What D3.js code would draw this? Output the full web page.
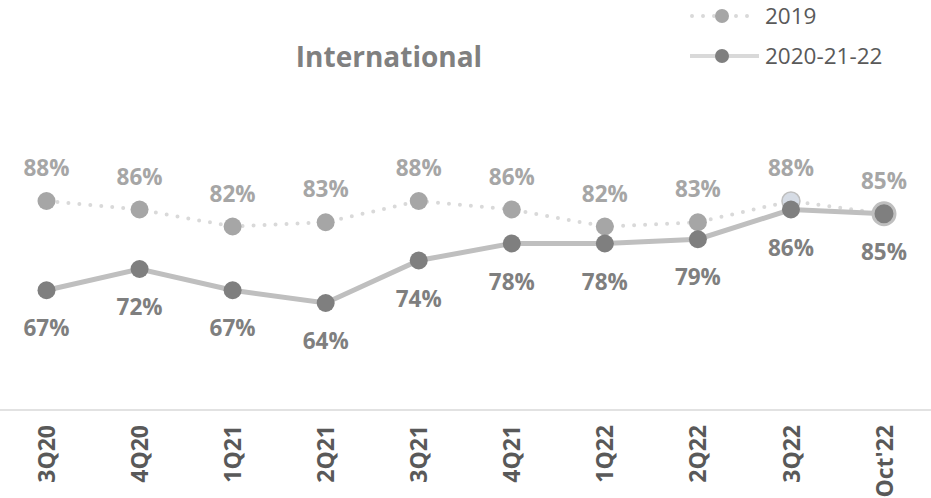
<!DOCTYPE html>
<html>
<head>
<meta charset="utf-8">
<script src="https://cdn.jsdelivr.net/npm/d3@7"></script>
<style>
  body { margin: 0; background: #fff; }
  svg { display: block; font-family: 'Open Sans', sans-serif; }
</style>
</head>
<body>
<div id="chart"></div>
<script>
var w = 931;
var h = 498;

var categories = ["3Q20", "4Q20", "1Q21", "2Q21", "3Q21", "4Q21", "1Q22", "2Q22", "3Q22", "Oct'22"];
var values2019 = [88, 86, 82, 83, 88, 86, 82, 83, 88, 85];
var values2020 = [67, 72, 67, 64, 74, 78, 78, 79, 86, 85];
var seriesNames = ["2019", "2020-21-22"];

var svg = d3.select('#chart')
    .append('svg')
        .attr('width', w)
        .attr('height', h);

var x = d3.scalePoint()
    .domain(categories)
    .range([46.5, 884]);

var y = d3.scaleLinear()
    .domain([40, 100])
    .range([405, 150]);

// title
svg.append('text')
    .attr('x', 389)
    .attr('y', 67)
    .attr('text-anchor', 'middle')
    .style('font-size', '28px')
    .style('font-weight', 'bold')
    .style('fill', '#808080')
    .text('International');

// x axis
var xAxis = svg.append('g')
    .attr('transform', 'translate(0,410)')
    .call(d3.axisBottom(x).tickSize(0).tickPadding(0));
xAxis.select('.domain').remove();
xAxis.append('line')
    .attr('x1', 0).attr('x2', w)
    .attr('stroke', '#d9d9d9')
    .attr('stroke-width', 1.5);
xAxis.selectAll('.tick text')
    .attr('transform', 'rotate(-90)')
    .attr('x', -15)
    .attr('y', 0)
    .attr('dy', '0.35em')
    .attr('text-anchor', 'end')
    .style('font-family', "'Open Sans', sans-serif")
    .style('font-size', '23px')
    .style('font-weight', 'bold')
    .style('fill', '#595959');

var line = d3.line()
    .x((d, i) => x(categories[i]))
    .y(d => y(d));

// 2019 dotted line
svg.append('path')
    .datum(values2019)
    .attr('d', line)
    .attr('fill', 'none')
    .attr('stroke', '#d9d9d9')
    .attr('stroke-width', 4)
    .attr('stroke-linecap', 'round')
    .attr('stroke-dasharray', '0 11');

// 2020-21-22 solid line
svg.append('path')
    .datum(values2020)
    .attr('d', line)
    .attr('fill', 'none')
    .attr('stroke', '#bfbfbf')
    .attr('stroke-width', 5);

// 2019 markers
svg.selectAll('.m2019')
    .data(values2019)
    .enter()
    .append('circle')
        .attr('class', 'm2019')
        .attr('cx', (d, i) => x(categories[i]))
        .attr('cy', d => y(d))
        .attr('r', 9)
        .style('fill', (d, i) => i === 8 ? '#d6dce5' : '#a6a6a6')
        .style('stroke', (d, i) => i === 8 ? '#bfbfbf' : 'none')
        .style('stroke-width', 1.5);

// 2020-21-22 markers
svg.selectAll('.m2020')
    .data(values2020)
    .enter()
    .append('circle')
        .attr('class', 'm2020')
        .attr('cx', (d, i) => x(categories[i]))
        .attr('cy', d => y(d))
        .attr('r', (d, i) => i === 9 ? 11 : 9)
        .style('fill', '#7f7f7f')
        .style('stroke', (d, i) => i === 9 ? '#bfbfbf' : 'none')
        .style('stroke-width', 3);

// labels
svg.selectAll('.l2019')
    .data(values2019)
    .enter()
    .append('text')
        .attr('class', 'l2019')
        .attr('x', (d, i) => x(categories[i]))
        .attr('y', d => y(d) - 25)
        .attr('text-anchor', 'middle')
        .style('font-size', '22.5px')
        .style('font-weight', 'bold')
        .style('fill', '#a6a6a6')
        .text(d => d + '%');

svg.selectAll('.l2020')
    .data(values2020)
    .enter()
    .append('text')
        .attr('class', 'l2020')
        .attr('x', (d, i) => x(categories[i]))
        .attr('y', d => y(d) + 46)
        .attr('text-anchor', 'middle')
        .style('font-size', '22.5px')
        .style('font-weight', 'bold')
        .style('fill', '#7f7f7f')
        .text(d => d + '%');

// legend
var legend = svg.append('g');
var leg = legend.selectAll('g')
    .data(seriesNames)
    .enter()
    .append('g')
        .attr('transform', (d, i) => 'translate(0,' + (16 + i * 40) + ')');
leg.append('line')
    .attr('x1', (d, i) => i === 0 ? 692 : 690)
    .attr('x2', (d, i) => i === 0 ? 753 : 759)
    .attr('stroke', '#d9d9d9')
    .attr('stroke-width', 4)
    .attr('stroke-linecap', (d, i) => i === 0 ? 'round' : 'butt')
    .attr('stroke-dasharray', (d, i) => i === 0 ? '0 11' : null);
leg.append('circle')
    .attr('cx', 722)
    .attr('r', 7)
    .style('fill', (d, i) => i === 0 ? '#a6a6a6' : '#7f7f7f');
leg.append('text')
    .attr('x', 765)
    .attr('y', 8)
    .style('font-size', '22.5px')
    .style('fill', '#595959')
    .text(d => d);
</script>
</body>
</html>
